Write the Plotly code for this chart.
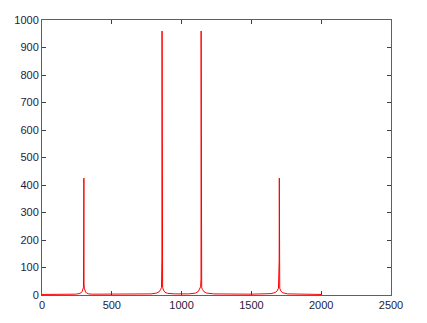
import plotly.graph_objects as go

# Spectrum samples (frequency, magnitude)
freq = [0, 150, 240, 265, 280, 288, 293, 297, 299, 300, 301, 303, 307, 312, 320, 335, 360,
        600, 780, 820, 840, 850, 856, 859, 860, 861, 864, 870, 880, 900, 950,
        1050, 1100, 1120, 1130, 1136, 1139, 1140, 1141, 1144, 1150, 1160, 1180, 1230,
        1500, 1640, 1670, 1685, 1694, 1699, 1700, 1701, 1703, 1710, 1725, 1760, 1850, 2000]
mag = [2, 2, 3, 5, 8, 13, 20, 28, 262, 425, 40, 25, 18, 11, 7, 4, 3,
       3, 4, 7, 12, 20, 28, 132, 960, 40, 28, 18, 10, 6, 4,
       4, 7, 13, 22, 30, 58, 960, 45, 26, 20, 12, 7, 4,
       3, 5, 9, 15, 25, 127, 425, 35, 25, 15, 8, 4, 3, 2]

x_ticks = [0, 500, 1000, 1500, 2000, 2500]
y_ticks = [0, 100, 200, 300, 400, 500, 600, 700, 800, 900, 1000]

fig = go.Figure()
fig.add_trace(go.Scatter(x=freq, y=mag, mode="lines",
                         line=dict(color="#ff0000", width=1), hoverinfo="skip"))

axis_common = dict(showgrid=False, zeroline=False, showline=True, linecolor="#606060",
                   linewidth=1, mirror="ticks", ticks="inside", ticklen=4,
                   tickcolor="#404040", tickwidth=1,
                   tickfont=dict(family="Liberation Sans, Arial, sans-serif",
                                 size=11, color="#1c1c40"))
fig.update_xaxes(range=[0, 2500], tickvals=x_ticks, ticktext=[str(v) for v in x_ticks],
                 **axis_common)
fig.update_yaxes(range=[0, 1000], tickvals=y_ticks, ticktext=[str(v) for v in y_ticks],
                 **axis_common)
fig.update_layout(width=427, height=323, margin=dict(l=42, r=36, t=20, b=28),
                  paper_bgcolor="white", plot_bgcolor="white", showlegend=False)
fig.write_html("out.html")
